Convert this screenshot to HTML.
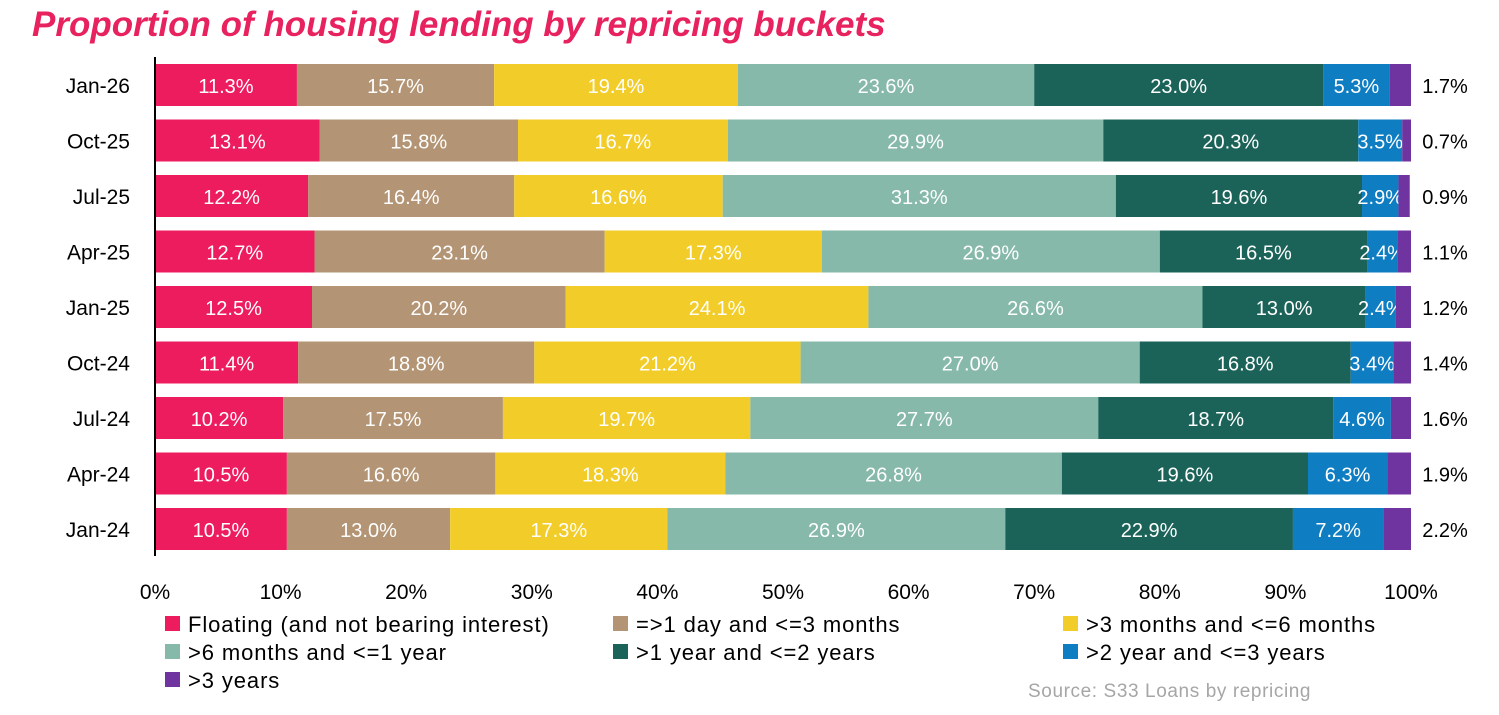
<!DOCTYPE html>
<html><head><meta charset="utf-8"><style>
body{margin:0;background:#fff;width:1499px;height:710px;overflow:hidden;font-family:"Liberation Sans",sans-serif;}
svg text{font-family:"Liberation Sans",sans-serif;}
</style></head><body>
<svg width="1499" height="710">
<text x="32" y="36" fill="#E8215F" font-size="35" font-weight="bold" font-style="italic">Proportion of housing lending by repricing buckets</text>
<g id="plot"></g>
<g id="legend"></g>
<text x="1028" y="697" fill="#a6a6a6" font-size="19" letter-spacing="0.6">Source: S33 Loans by repricing</text>
</svg>
<script>
const categories=["Jan-26","Oct-25","Jul-25","Apr-25","Jan-25","Oct-24","Jul-24","Apr-24","Jan-24"];
const seriesNames=["Floating (and not bearing interest)","=>1 day and <=3 months",">3 months and <=6 months",">6 months and <=1 year",">1 year and <=2 years",">2 year and <=3 years",">3 years"];
const s1=[11.3,13.1,12.2,12.7,12.5,11.4,10.2,10.5,10.5];
const s2=[15.7,15.8,16.4,23.1,20.2,18.8,17.5,16.6,13.0];
const s3=[19.4,16.7,16.6,17.3,24.1,21.2,19.7,18.3,17.3];
const s4=[23.6,29.9,31.3,26.9,26.6,27.0,27.7,26.8,26.9];
const s5=[23.0,20.3,19.6,16.5,13.0,16.8,18.7,19.6,22.9];
const s6=[5.3,3.5,2.9,2.4,2.4,3.4,4.6,6.3,7.2];
const s7=[1.7,0.7,0.9,1.1,1.2,1.4,1.6,1.9,2.2];
const ticks=[0,10,20,30,40,50,60,70,80,90,100];
const series=[s1,s2,s3,s4,s5,s6,s7];
const colors=["#ED1C5F","#B39474","#F2CD2A","#86B9A9","#1B6358","#0E7DC2","#7034A0"];
const NS="http://www.w3.org/2000/svg";
const x0=155,x1=1411;
const X=v=>x0+(x1-x0)*v/100;
const Y=i=>85+55.5*i;
const bh=42;
const plot=document.getElementById('plot');
function mk(t,a,p){const e=document.createElementNS(NS,t);for(const k in a)e.setAttribute(k,a[k]);(p||plot).appendChild(e);return e;}
categories.forEach((c,i)=>{
  const lab=mk('text',{x:130,y:Y(i)+8,'text-anchor':'end','font-size':21,fill:'#000'});
  lab.textContent=c;
  
  
  let cum=0;
  series.forEach((s,j)=>{
    const v=s[i];
    const r=mk('rect',{x:X(cum),y:Y(i)-bh/2,width:X(cum+v)-X(cum),height:bh,fill:colors[j]});
    
    
    let t;
    if(j<6){t=mk('text',{x:(X(cum)+X(cum+v))/2,y:Y(i)+8,'text-anchor':'middle','font-size':20,fill:'#fff'});}
    else{t=mk('text',{x:1445,y:Y(i)+8,'text-anchor':'middle','font-size':20,fill:'#000'});}
    t.textContent=v.toFixed(1)+'%';
    
    
    cum+=v;
  });
});
const ax=mk('line',{x1:x0,x2:x0,y1:57,y2:556,stroke:'#000','stroke-width':2});


ticks.forEach(t=>{
  const e=mk('text',{x:X(t),y:599,'text-anchor':'middle','font-size':21,fill:'#000'});
  e.textContent=t+'%';
  
  
});
const lg=document.getElementById('legend');
const lx=[165,613,1063],ly=[624,652,680];
seriesNames.forEach((n,k)=>{
  const cx=lx[k%3],cy=ly[Math.floor(k/3)];
  const g=mk('g',{},lg);
  
  
  mk('rect',{x:cx,y:cy-8,width:15,height:15,fill:colors[k]},g);
  const t=mk('text',{x:cx+23,y:cy+8,'font-size':22,'letter-spacing':0.9,fill:'#000'},g);
  t.textContent=n;
});
</script>
</body></html>
